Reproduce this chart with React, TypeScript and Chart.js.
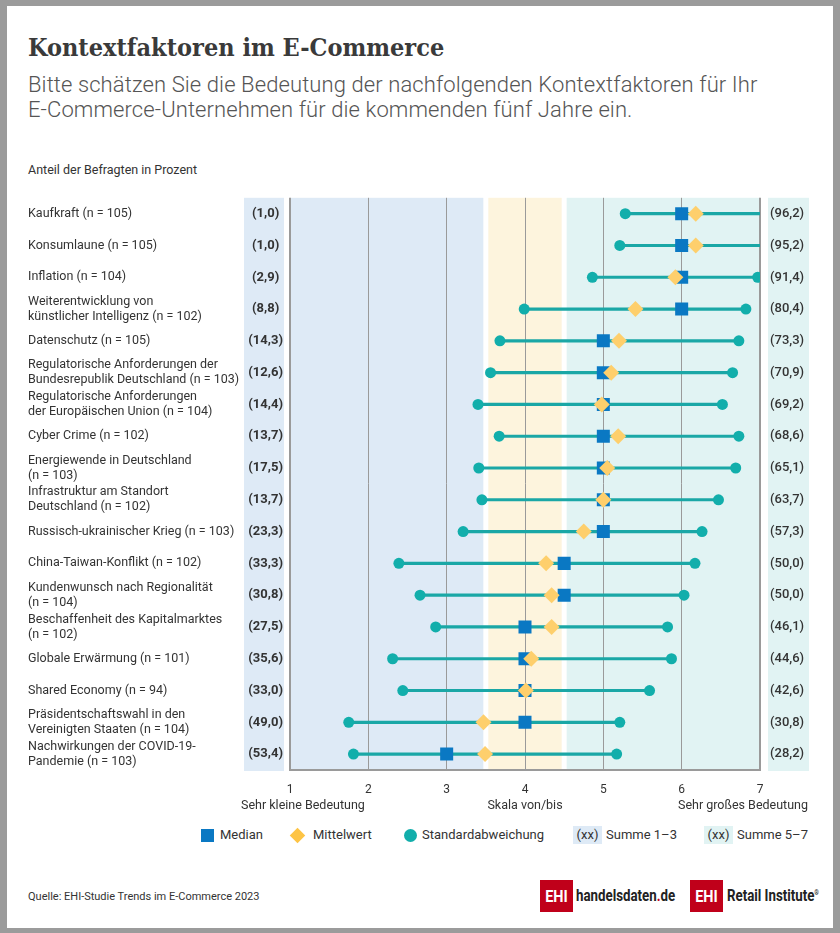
import React, { useEffect, useRef } from "react";
import { Chart, registerables } from "chart.js";

Chart.register(...registerables);

const categories: string[][] = [
  ["Kaufkraft (n = 105)"],
  ["Konsumlaune (n = 105)"],
  ["Inflation (n = 104)"],
  ["Weiterentwicklung von", "künstlicher Intelligenz (n = 102)"],
  ["Datenschutz (n = 105)"],
  ["Regulatorische Anforderungen der", "Bundesrepublik Deutschland (n = 103)"],
  ["Regulatorische Anforderungen", "der Europäischen Union (n = 104)"],
  ["Cyber Crime (n = 102)"],
  ["Energiewende in Deutschland", "(n = 103)"],
  ["Infrastruktur am Standort", "Deutschland (n = 102)"],
  ["Russisch-ukrainischer Krieg (n = 103)"],
  ["China-Taiwan-Konflikt (n = 102)"],
  ["Kundenwunsch nach Regionalität", "(n = 104)"],
  ["Beschaffenheit des Kapitalmarktes", "(n = 102)"],
  ["Globale Erwärmung (n = 101)"],
  ["Shared Economy (n = 94)"],
  ["Präsidentschaftswahl in den", "Vereinigten Staaten (n = 104)"],
  ["Nachwirkungen der COVID-19-", "Pandemie (n = 103)"],
];

const medians = [6, 6, 6, 6, 5, 5, 5, 5, 5, 5, 5, 4.5, 4.5, 4, 4, 4, 4, 3];
const means = [6.18, 6.18, 5.92, 5.41, 5.2, 5.1, 4.98, 5.19, 5.05, 5.0, 4.75, 4.27, 4.34, 4.34, 4.08, 4.01, 3.47, 3.49];
const stdLow = [5.28, 5.21, 4.86, 3.99, 3.68, 3.56, 3.4, 3.67, 3.41, 3.45, 3.21, 2.39, 2.66, 2.86, 2.31, 2.44, 1.75, 1.81];
const stdHigh = [7.07, 7.14, 6.97, 6.82, 6.73, 6.65, 6.52, 6.73, 6.69, 6.47, 6.26, 6.17, 6.03, 5.82, 5.87, 5.59, 5.21, 5.17];
const sumLow = [1.0, 1.0, 2.9, 8.8, 14.3, 12.6, 14.4, 13.7, 17.5, 13.7, 23.3, 33.3, 30.8, 27.5, 35.6, 33.0, 49.0, 53.4];
const sumHigh = [96.2, 95.2, 91.4, 80.4, 73.3, 70.9, 69.2, 68.6, 65.1, 63.7, 57.3, 50.0, 50.0, 46.1, 44.6, 42.6, 30.8, 28.2];
const scaleMin = 1;
const scaleMax = 7;
const bands = [
  { from: 1, to: 3.5, color: "#deeaf6" },
  { from: 3.5, to: 4.5, color: "#fdf4dd" },
  { from: 4.5, to: 7, color: "#e1f3f3" },
];
const axisTexts = { left: "Sehr kleine Bedeutung", center: "Skala von/bis", right: "Sehr großes Bedeutung" };

const FONT = "Roboto, 'Open Sans', sans-serif";
const TEXT = "#333333";
const BLUE_BG = "#deeaf6";
const TEAL_BG = "#e1f3f3";
const MEDIAN_C = "#0a78c3";
const MEAN_C = "#fecf6c";
const STD_C = "#12aeab";
const LINE_C = "#1aa7a6";
const GRID_C = "#9a9a9a";
const RED = "#c0001a";

const fmt = (v: number) => "(" + v.toFixed(1).replace(".", ",") + ")";

const bgPlugin = {
  id: "bgPlugin",
  beforeDraw(chart: any) {
    const { ctx, chartArea } = chart;
    const x = chart.scales.x;
    const gap = 2.5;
    ctx.save();
    bands.forEach((b, i) => {
      let l = x.getPixelForValue(b.from);
      let r = x.getPixelForValue(b.to);
      if (i > 0) l += gap;
      if (i < bands.length - 1) r -= gap;
      ctx.fillStyle = b.color;
      ctx.fillRect(l, chartArea.top, r - l, chartArea.bottom - chartArea.top);
    });
    ctx.fillStyle = BLUE_BG;
    ctx.fillRect(chartArea.left - 46, chartArea.top, 40, chartArea.bottom - chartArea.top + 1);
    ctx.fillStyle = TEAL_BG;
    ctx.fillRect(chartArea.right + 8, chartArea.top, 41, chartArea.bottom - chartArea.top + 1);
    ctx.restore();
  },
  afterDraw(chart: any) {
    const { ctx, chartArea } = chart;
    const y = chartArea.bottom + 36;
    ctx.save();
    ctx.font = "12.5px " + FONT;
    ctx.fillStyle = TEXT;
    ctx.textBaseline = "middle";
    ctx.textAlign = "left";
    ctx.fillText(axisTexts.left, chartArea.left - 49, y);
    ctx.textAlign = "center";
    ctx.fillText(axisTexts.center, (chartArea.left + chartArea.right) / 2, y);
    ctx.textAlign = "right";
    ctx.fillText(axisTexts.right, chartArea.right + 48, y);
    ctx.restore();
  },
};

function ChartView() {
  const ref = useRef<HTMLCanvasElement | null>(null);
  useEffect(() => {
    if (!ref.current) return;
    const chart = new Chart(ref.current, {
      type: "bar",
      data: {
        labels: categories as any,
        datasets: [
          {
            type: "line",
            label: "Mittelwert",
            data: means,
            indexAxis: "y",
            showLine: false,
            pointStyle: "rectRot",
            pointRadius: 8,
            pointBackgroundColor: MEAN_C,
            pointBorderWidth: 0,
            order: 1,
            xAxisID: "x",
            yAxisID: "y",
          } as any,
          {
            type: "line",
            label: "Median",
            data: medians,
            indexAxis: "y",
            showLine: false,
            pointStyle: "rect",
            pointRadius: 9.2,
            pointBackgroundColor: MEDIAN_C,
            pointBorderWidth: 0,
            order: 2,
            xAxisID: "x",
            yAxisID: "y",
          } as any,
          {
            type: "line",
            label: "Std low",
            data: stdLow,
            indexAxis: "y",
            showLine: false,
            pointStyle: "circle",
            pointRadius: (c: any) => (c.raw > scaleMax || c.raw < scaleMin ? 0 : 5.5),
            pointBackgroundColor: STD_C,
            pointBorderWidth: 0,
            order: 3,
            xAxisID: "x",
            yAxisID: "y",
          } as any,
          {
            type: "line",
            label: "Std high",
            data: stdHigh,
            indexAxis: "y",
            showLine: false,
            pointStyle: "circle",
            pointRadius: (c: any) => (c.raw > scaleMax || c.raw < scaleMin ? 0 : 5.5),
            pointBackgroundColor: STD_C,
            pointBorderWidth: 0,
            order: 3,
            xAxisID: "x",
            yAxisID: "y",
          } as any,
          {
            type: "bar",
            label: "Spanne",
            data: stdLow.map((l, i) => [l, stdHigh[i]]),
            indexAxis: "y",
            backgroundColor: LINE_C,
            borderWidth: 0,
            barThickness: 2.5,
            order: 4,
            clip: { left: false, top: false, right: 0, bottom: false },
            xAxisID: "x",
            yAxisID: "y",
          } as any,
        ],
      },
      options: {
        indexAxis: "y",
        responsive: false,
        animation: false,
        events: [],
        layout: { padding: { left: 28, top: 15, right: 0, bottom: 0 } },
        plugins: { legend: { display: false }, tooltip: { enabled: false }, title: { display: false } },
        scales: {
          x: {
            type: "linear",
            position: "bottom",
            min: scaleMin,
            max: scaleMax,
            ticks: { stepSize: 1, color: TEXT, font: { family: FONT, size: 12 }, padding: 13 },
            grid: {
              color: GRID_C,
              lineWidth: (c: any) => (c.tick && (c.tick.value === scaleMin || c.tick.value === scaleMax) ? 2 : 1),
              drawTicks: false,
            },
            border: { display: true, color: GRID_C, width: 2 },
            afterFit: (s: any) => {
              s.height = 50;
            },
          },
          y: {
            type: "category",
            position: "left",
            weight: 10,
            offset: true,
            grid: { display: false, drawTicks: false },
            border: { display: false },
            ticks: {
              crossAlign: "far",
              color: TEXT,
              padding: 0,
              autoSkip: false,
              font: { family: FONT, size: 12.5, lineHeight: 1.2 },
            },
            afterFit: (s: any) => {
              s.width = 216;
            },
          },
          ySum: {
            type: "category",
            axis: "y",
            position: "left",
            weight: 0,
            offset: true,
            grid: { display: false, drawTicks: false },
            border: { display: false },
            ticks: {
              crossAlign: "center",
              color: TEXT,
              padding: 7,
              autoSkip: false,
              font: { family: FONT, size: 13, weight: "bold" },
              callback: (_v: any, i: number) => fmt(sumLow[i]),
            },
            afterFit: (s: any) => {
              s.width = 46;
            },
          },
          yRight: {
            type: "category",
            axis: "y",
            position: "right",
            offset: true,
            grid: { display: false, drawTicks: false },
            border: { display: false },
            ticks: {
              crossAlign: "near",
              color: TEXT,
              padding: 10,
              autoSkip: false,
              font: { family: FONT, size: 13, weight: "500" },
              callback: (_v: any, i: number) => fmt(sumHigh[i]),
            },
            afterFit: (s: any) => {
              s.width = 80;
            },
          },
        } as any,
      },
      plugins: [bgPlugin],
    });
    return () => chart.destroy();
  }, []);
  return <canvas ref={ref} width={840} height={640} style={{ position: "absolute", left: 0, top: 180, width: 840, height: 640 }} />;
}

const legendText: React.CSSProperties = { position: "absolute", top: 826, fontFamily: FONT, fontSize: 13, color: TEXT, lineHeight: "18px", whiteSpace: "nowrap" };
const logoBox: React.CSSProperties = { position: "absolute", top: 880, width: 33, height: 32, background: RED };
const logoBoxText: React.CSSProperties = { position: "absolute", left: 0, top: 0, width: 33, height: 32, color: "#fff", fontFamily: FONT, fontWeight: "bold", fontSize: 17, lineHeight: "32px", textAlign: "center", transform: "scaleX(0.85)" };
const logoText: React.CSSProperties = { position: "absolute", top: 886, fontFamily: FONT, fontWeight: "bold", fontSize: 16, lineHeight: "20px", color: "#222", whiteSpace: "nowrap", transform: "scaleX(0.83)", transformOrigin: "left center" };

export default function App() {
  return (
    <div style={{ position: "absolute", left: 0, top: 0, width: 840, height: 933, background: "#9b9b9b", overflow: "hidden" }}>
      <div style={{ position: "absolute", left: 7, top: 6, width: 826, height: 922, background: "#ffffff" }} />
      <div style={{ position: "absolute", left: 28, top: 33, fontFamily: "'DejaVu Serif Condensed', 'DejaVu Serif', serif", fontWeight: "bold", fontSize: 25, lineHeight: "30px", color: "#3a3a3a", whiteSpace: "nowrap" }}>
        Kontextfaktoren im E-Commerce
      </div>
      <div style={{ position: "absolute", left: 28, top: 72, fontFamily: FONT, fontWeight: 300, fontSize: 22, letterSpacing: 0.1, lineHeight: "25px", color: "#555555", whiteSpace: "nowrap" }}>
        Bitte schätzen Sie die Bedeutung der nachfolgenden Kontextfaktoren für Ihr
        <br />
        E-Commerce-Unternehmen für die kommenden fünf Jahre ein.
      </div>
      <div style={{ position: "absolute", left: 28, top: 162, fontFamily: FONT, fontSize: 12.5, lineHeight: "16px", color: TEXT, whiteSpace: "nowrap" }}>
        Anteil der Befragten in Prozent
      </div>
      <ChartView />
      {/* legend */}
      <div style={{ position: "absolute", left: 201, top: 829, width: 13, height: 13, background: MEDIAN_C }} />
      <div style={{ ...legendText, left: 220 }}>Median</div>
      <div style={{ position: "absolute", left: 292, top: 830, width: 11, height: 11, background: "#fdc445", transform: "rotate(45deg)" }} />
      <div style={{ ...legendText, left: 313 }}>Mittelwert</div>
      <div style={{ position: "absolute", left: 404, top: 829, width: 13, height: 13, borderRadius: "50%", background: STD_C }} />
      <div style={{ ...legendText, left: 422 }}>Standardabweichung</div>
      <div style={{ ...legendText, left: 573, width: 29, background: BLUE_BG, textAlign: "center" }}>(xx)</div>
      <div style={{ ...legendText, left: 606 }}>Summe 1–3</div>
      <div style={{ ...legendText, left: 704, width: 29, background: TEAL_BG, textAlign: "center" }}>(xx)</div>
      <div style={{ ...legendText, left: 737 }}>Summe 5–7</div>
      {/* footer */}
      <div style={{ position: "absolute", left: 28, top: 889, fontFamily: FONT, fontSize: 11, lineHeight: "16px", color: TEXT, whiteSpace: "nowrap" }}>
        Quelle: EHI-Studie Trends im E-Commerce 2023
      </div>
      <div style={{ ...logoBox, left: 540 }}>
        <div style={logoBoxText}>EHI</div>
      </div>
      <div style={{ ...logoText, left: 576 }}>
        handelsdaten<span style={{ color: RED }}>.</span>de
      </div>
      <div style={{ ...logoBox, left: 690 }}>
        <div style={logoBoxText}>EHI</div>
      </div>
      <div style={{ ...logoText, left: 727 }}>
        Retail Institute<sup style={{ fontSize: 7, verticalAlign: "top", position: "relative", top: -3 }}>®</sup>
      </div>
    </div>
  );
}
